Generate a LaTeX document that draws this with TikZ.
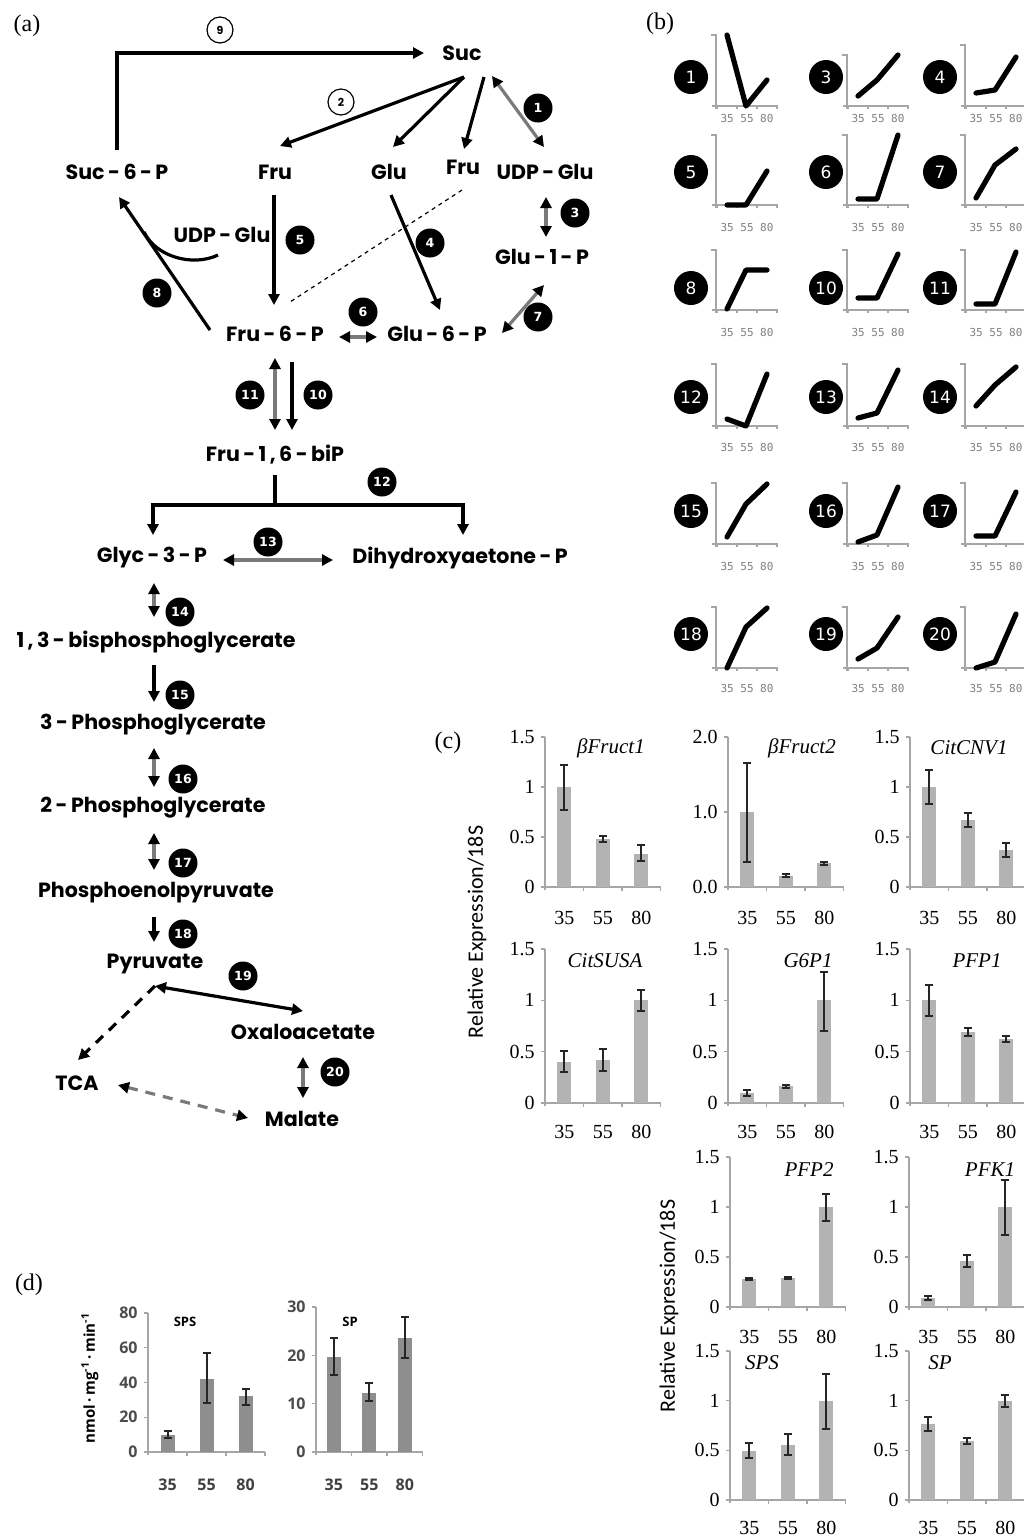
\documentclass[tikz,border=0pt]{standalone}
\usepackage{fontspec}
\setmainfont{Liberation Serif}
\newfontfamily\pathfont{Poppins}
\newfontfamily\monofont{DejaVu Sans Mono}
\newfontfamily\numfont{DejaVu Sans}
\newfontfamily\gillfont{Carlito}
\newfontfamily\dfont{Open Sans}
\usetikzlibrary{arrows.meta}
\definecolor{cbarc}{HTML}{B3B3B3}
\definecolor{dbarc}{HTML}{8E8E8E}
\definecolor{axc}{HTML}{A6A6A6}
\definecolor{garrow}{HTML}{7A7A7A}
\tikzset{
 met/.style={font=\pathfont\bfseries\fontsize{10.3}{12}\selectfont, inner sep=0pt},
 bca/.style={circle, fill=black, minimum size=14.5pt, inner sep=0pt, text=white, font=\numfont\bfseries\fontsize{6.3}{7}\selectfont},
 oca/.style={circle, draw=black, line width=0.6pt, minimum size=13pt, inner sep=0pt, font=\pathfont\bfseries\fontsize{5.5}{6}\selectfont},
 flow/.style={line width=1.6pt, -{Triangle[length=5.5pt,width=5.5pt]}},
 flow2/.style={line width=1.6pt, {Triangle[length=5.5pt,width=5.5pt]}-{Triangle[length=5.5pt,width=5.5pt]}},
 gflow2/.style={draw=garrow, line width=1.6pt, {Triangle[length=5.5pt,width=5.5pt,color=black]}-{Triangle[length=5.5pt,width=5.5pt,color=black]}},
 bcb/.style={circle, fill=black, minimum size=17pt, inner sep=0pt, text=white, font=\numfont\fontsize{8.5}{9}\selectfont},
 baxis/.style={draw=axc, line width=0.6pt},
 bline/.style={line width=2.6pt, line cap=round, line join=round},
 blab/.style={font=\monofont\fontsize{5.5}{6}\selectfont, text=gray, inner sep=0pt},
 caxis/.style={draw=axc, line width=0.6pt},
 cbar/.style={fill=cbarc},
 cerr/.style={draw=black!85, line width=1pt},
 cytick/.style={anchor=east, inner sep=0pt, font=\fontsize{10}{11}\selectfont},
 cxlab/.style={inner sep=0pt, font=\fontsize{10}{11}\selectfont},
 ctitle/.style={inner sep=0pt, font=\itshape\fontsize{10.5}{11}\selectfont},
 ylab/.style={inner sep=0pt, font=\gillfont\fontsize{11}{12}\selectfont},
 plab/.style={inner sep=0pt, font=\fontsize{12}{13}\selectfont},
}
\newcommand\cchart[9]{%
 \draw[caxis] (#2,#3-#6*#4) -- (#2,#3+3);
 \draw[caxis] (#2-3,#3) -- (#2+3*#9,#3);
 \foreach \sk in {1,2,3} \draw[caxis] (#2+\sk*#9,#3) -- (#2+\sk*#9,#3+4);
 \foreach \bv/\lbl [count=\k] in {#5} {
   \draw[caxis] (#2-4,#3-\bv*#4) -- (#2,#3-\bv*#4);
   \node[cytick] (#1y\k) at (#2-10,#3-\bv*#4) {\lbl};
 }
 \foreach \bv/\bh/\bl/\lbl [count=\k] in {#7} {
   \fill[cbar] (#2+\k*#9-0.5*#9-7,#3) rectangle (#2+\k*#9-0.5*#9+7,#3-\bv*#4);
   \draw[cerr] (#2+\k*#9-0.5*#9,#3-\bl*#4) -- (#2+\k*#9-0.5*#9,#3-\bh*#4);
   \draw[cerr] (#2+\k*#9-0.5*#9-4,#3-\bl*#4) -- +(8,0) (#2+\k*#9-0.5*#9-4,#3-\bh*#4) -- +(8,0);
   \node[cxlab] (#1x\k) at (#2+\k*#9-0.5*#9,#8) {\lbl};
 }
}
\begin{document}
\begin{tikzpicture}[x=0.5pt,y=-0.5pt]
\useasboundingbox (0,0) rectangle (1024,1539);
\fill[white] (0,0) rectangle (1024,1539);
\clip (0,0) rectangle (1024,1539);

% panel labels
\node[plab] (pa) at (27,26) {(a)};
\node[plab] (pb) at (660,24) {(b)};
\node[plab] (pc) at (448,743) {(c)};
\node[plab] (pd) at (29,1285) {(d)};

% ---------------- (a) pathway
\node[met] (suc) at (462,53) {Suc};
\node[met] (s6p) at (117,172) {Suc\,-\,6\,-\,P};
\node[met] (fru) at (275,172) {Fru};
\node[met] (glu) at (389,172) {Glu};
\node[met] (frub) at (463,167) {Fru};
\node[met] (udpg) at (545,172) {UDP\,-\,Glu};
\node[met] (g1p) at (542,257) {Glu\,-\,1\,-\,P};
\node[met] (udpgb) at (222,235) {UDP\,-\,Glu};
\node[met] (f6p) at (275,334) {Fru\,-\,6\,-\,P};
\node[met] (g6p) at (437,334) {Glu\,-\,6\,-\,P};
\node[met] (fbp) at (275,455) {Fru\,-\,1\,,\,6\,-\,biP};
\node[met] (gly) at (152,558) {Glyc\,-\,3\,-\,P};
\node[met, anchor=west] (dhap) at (352,558) {Dihydroxyaetone\,-\,P};
\node[met] (bpg) at (156,642) {1\,,\,3\,-\,bisphosphoglycerate};
\node[met] (pg3) at (153,725) {3\,-\,Phosphoglycerate};
\node[met] (pg2) at (153,808) {2\,-\,Phosphoglycerate};
\node[met] (pep) at (156,893) {Phosphoenolpyruvate};
\node[met] (pyr) at (155,964) {Pyruvate};
\node[met] (oaa) at (303,1032) {Oxaloacetate};
\node[met] (tca) at (77,1083) {TCA};
\node[met] (mal) at (302,1119) {Malate};

\node[oca] (o9) at (220,30) {9};
\node[oca] (o2) at (341,102) {2};

\draw[flow] ([shift={(0,-22)}]s6p.center) |- ([shift={(-38,0)}]suc.center);
\draw[flow] ([shift={(2,24)}]suc.center) -- ([shift={(5,-26)}]fru.center);
\draw[flow] ([shift={(2,24)}]suc.center) -- ([shift={(4,-25)}]glu.center);
\draw[flow] ([shift={(22,24)}]suc.center) -- ([shift={(1,-18)}]frub.center);
\draw[gflow2] ([shift={(30,23)}]suc.center) -- ([shift={(-1,-25)}]udpg.center);
\draw[gflow2] ([shift={(1,25)}]udpg.center) -- ([shift={(4,-20)}]g1p.center);
\draw[flow] ([shift={(-1,23)}]fru.center) -- ([shift={(-1,-29)}]f6p.center);
\draw[line width=0.6pt, dash pattern=on 2pt off 2pt] ([shift={(-1,23)}]frub.center) -- ([shift={(15,-32)}]f6p.center);
\draw[flow] ([shift={(2,23)}]glu.center) -- ([shift={(3,-24)}]g6p.center);
\draw[flow] ([shift={(-65,-4)}]f6p.center) -- ([shift={(2,25)}]s6p.center);
\draw[line width=1.6pt] ([shift={(-4,20)}]udpgb.center) .. controls +(-25,12) and +(12,25) .. ([shift={(27,60)}]s6p.center);
\draw[gflow2] ([shift={(64,3)}]f6p.center) -- ([shift={(-60,3)}]g6p.center);
\draw[gflow2] ([shift={(65,-1)}]g6p.center) -- ([shift={(2,28)}]g1p.center);
\draw[gflow2] ([shift={(0,24)}]f6p.center) -- ([shift={(0,-25)}]fbp.center);
\draw[flow] ([shift={(17,28)}]f6p.center) -- ([shift={(17,-25)}]fbp.center);
\draw[line width=1.6pt] ([shift={(0,20)}]fbp.center) -- ([shift={(0,50)}]fbp.center);
\draw[flow] ([shift={(0,50)}]fbp.center) -| ([shift={(1,-23)}]gly.center);
\draw[flow] ([shift={(0,50)}]fbp.center) -| ([shift={(111,-23)}]dhap.west);
\draw[gflow2] ([shift={(71,2)}]gly.center) -- ([shift={(-19,2)}]dhap.west);
\draw[gflow2] ([shift={(2,25)}]gly.center) -- ([shift={(-2,-25)}]bpg.center);
\draw[flow] ([shift={(-2,23)}]bpg.center) -- ([shift={(1,-23)}]pg3.center);
\draw[gflow2] ([shift={(1,23)}]pg3.center) -- ([shift={(1,-21)}]pg2.center);
\draw[gflow2] ([shift={(1,25)}]pg2.center) -- ([shift={(-2,-23)}]pep.center);
\draw[flow] ([shift={(-2,24)}]pep.center) -- ([shift={(-1,-22)}]pyr.center);
\draw[flow2] ([shift={(0,22)}]pyr.center) -- ([shift={(0,-21)}]oaa.center);
\draw[flow, dash pattern=on 5pt off 4pt] ([shift={(0,22)}]pyr.center) -- ([shift={(1,-23)}]tca.center);
\draw[gflow2] ([shift={(0,25)}]oaa.center) -- ([shift={(1,-21)}]mal.center);
\draw[gflow2, dash pattern=on 5pt off 4pt] ([shift={(41,2)}]tca.center) -- ([shift={(-54,-1)}]mal.center);

\foreach \nx/\ny/\nn in {538/108/1, 575/213/3, 300/240/5, 430/243/4, 157/293/8, 363/312/6, 538/317/7, 250/395/11, 318/395/10, 382/482/12, 268/542/13, 180/612/14, 180/695/15, 183/779/16, 183/863/17, 183/934/18, 243/976/19, 335/1072/20}
  \node[bca] (a\nn) at (\nx,\ny) {\nn};

% ---------------- (b) trend charts
\foreach \cx/\cy/\ax/\tp/\bb/\ly/\lab/\da/\db/\dd in {
 691/77/716/35/106/12/1/71/0/26,
 826/77/847/55/106/12/3/10/26/51,
 940/77/965/45/106/12/4/13/16/49,
 691/172/716/135/205/22/5/0/0/34,
 826/172/847/135/205/22/6/6/6/70,
 940/172/965/135/205/22/7/7/40/56,
 691/288/716/250/310/22/8/1/40/40,
 826/288/847/250/310/22/10/12/12/56,
 940/288/965/250/310/22/11/6/6/58,
 691/397/716/364/426/21/12/7/0/52,
 826/397/847/364/426/21/13/8/13/56,
 940/397/965/364/426/21/14/20/41/59,
 691/511/716/483/544/22/15/7/40/60,
 826/511/847/483/544/22/16/2/9/57,
 940/511/965/483/544/22/17/8/8/52,
 691/634/716/607/668/20/18/0/41/60,
 826/634/847/607/668/20/19/9/20/51,
 940/634/965/607/668/20/20/0/6/54}{
  \node[bcb] (bc\lab) at (\cx,\cy) {\lab};
  \draw[baxis] (\ax-5,\tp) -- (\ax,\tp) -- (\ax,\bb+3);
  \draw[baxis] (\ax-4,\bb) -- (\ax+62,\bb);
  \foreach \tk in {1,21,41,61} \draw[baxis] (\ax+\tk,\bb) -- (\ax+\tk,\bb+3);
  \draw[bline] (\ax+11,\bb-\da) -- (\ax+30,\bb-\db) -- (\ax+51,\bb-\dd);
  \node[blab] (bt\lab) at (\ax+31,\bb+\ly) {35 55 80};
}

% ---------------- (c) expression bar charts
\cchart{ca}{545}{887}{100}{0/0,0.5/0.5,1/1,1.5/1.5}{1.5}{1/1.22/0.77/35,0.48/0.51/0.45/55,0.33/0.42/0.26/80}{918}{38.5}
\cchart{cb}{728}{887}{75}{0/0.0,1/1.0,2/2.0}{2}{1/1.65/0.33/35,0.15/0.17/0.13/55,0.32/0.34/0.30/80}{918}{38.5}
\cchart{cc}{910}{887}{100}{0/0,0.5/0.5,1/1,1.5/1.5}{1.5}{1/1.17/0.83/35,0.67/0.74/0.6/55,0.37/0.44/0.3/80}{918}{38.5}
\cchart{cd}{545}{1103}{102.7}{0/0,0.5/0.5,1/1,1.5/1.5}{1.5}{0.4/0.51/0.3/35,0.42/0.53/0.31/55,1/1.1/0.9/80}{1132}{38.5}
\cchart{ce}{728}{1103}{102.7}{0/0,0.5/0.5,1/1,1.5/1.5}{1.5}{0.1/0.13/0.07/35,0.17/0.18/0.15/55,1/1.28/0.7/80}{1132}{38.5}
\cchart{cf}{910}{1103}{102.7}{0/0,0.5/0.5,1/1,1.5/1.5}{1.5}{1/1.15/0.85/35,0.69/0.73/0.65/55,0.62/0.65/0.59/80}{1132}{38.5}
\cchart{cg}{730}{1307}{100}{0/0,0.5/0.5,1/1,1.5/1.5}{1.5}{0.28/0.29/0.27/35,0.29/0.3/0.28/55,1/1.13/0.86/80}{1337}{38.5}
\cchart{ch}{909}{1307}{100}{0/0,0.5/0.5,1/1,1.5/1.5}{1.5}{0.09/0.11/0.07/35,0.46/0.52/0.4/55,1/1.27/0.72/80}{1337}{38.5}
\cchart{ci}{730}{1500}{99.3}{0/0,0.5/0.5,1/1,1.5/1.5}{1.5}{0.49/0.57/0.42/35,0.55/0.66/0.45/55,1/1.27/0.72/80}{1528}{38.5}
\cchart{cj}{909}{1500}{99.3}{0/0,0.5/0.5,1/1,1.5/1.5}{1.5}{0.77/0.84/0.7/35,0.59/0.62/0.56/55,1/1.06/0.94/80}{1528}{38.5}

\node[ctitle] (tca1) at (611,748) {βFruct1};
\node[ctitle] (tcb1) at (802,748) {βFruct2};
\node[ctitle] (tcc1) at (969,748) {CitCNV1};
\node[ctitle] (tcd1) at (605,961) {CitSUSA};
\node[ctitle] (tce1) at (808,961) {G6P1};
\node[ctitle] (tcf1) at (977,961) {PFP1};
\node[ctitle] (tcg1) at (809,1170) {PFP2};
\node[ctitle] (tch1) at (990,1170) {PFK1};
\node[ctitle] (tci1) at (762,1363) {SPS};
\node[ctitle] (tcj1) at (940,1363) {SP};

\node[ylab, rotate=90] (yl1) at (477,932) {Relative Expression/18S};
\node[ylab, rotate=90] (yl2) at (669,1306) {Relative Expression/18S};

% ---------------- (d) enzyme activities
\begin{scope}[cbar/.style={fill=dbarc},
  cytick/.style={anchor=east, inner sep=0pt, text=black!70, font=\dfont\bfseries\fontsize{8}{9}\selectfont},
  cxlab/.style={inner sep=0pt, text=black!75, font=\dfont\bfseries\fontsize{8}{9}\selectfont}]
\cchart{da}{148}{1452}{1.7375}{0/0,20/20,40/40,60/60,80/80}{80}{10/12/8/35,42/57/28/55,32/36/27/80}{1485}{39}
\cchart{db}{316}{1452}{4.833}{0/0,10/10,20/20,30/30}{30}{19.7/23.5/16/35,12.3/14.2/10.5/55,23.6/28/19.5/80}{1485}{35.5}
\end{scope}
\node[inner sep=0pt, font=\dfont\bfseries\fontsize{6.5}{7}\selectfont] (dt1) at (185,1322) {SPS};
\node[inner sep=0pt, font=\dfont\bfseries\fontsize{6.5}{7}\selectfont] (dt2) at (350,1322) {SP};
\node[rotate=90, inner sep=0pt, font=\dfont\bfseries\fontsize{7.5}{8}\selectfont] (dyl) at (90,1378) {nmol\,·\,mg\textsuperscript{-1}\,·\,min\textsuperscript{-1}};
\end{tikzpicture}
\end{document}
